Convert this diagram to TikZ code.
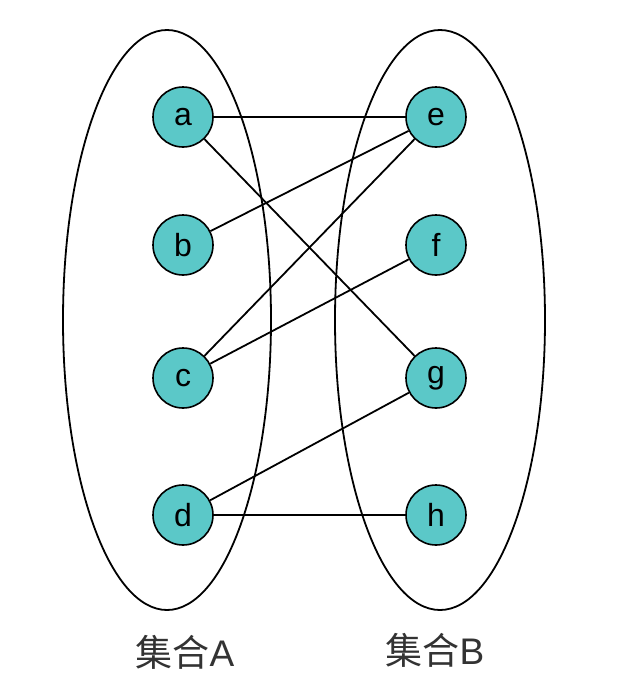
\documentclass[tikz,border=0pt]{standalone}
\usepackage{fontspec}
\setmainfont{Liberation Sans}
\newfontfamily\cjk{Noto Sans CJK SC}
\begin{document}
\begin{tikzpicture}[x=1pt,y=-1pt,
  elem/.style={circle,draw,line width=1.6pt,fill={rgb,255:red,91;green,200;blue,200},minimum size=60pt,inner sep=0pt,font=\fontsize{32}{34}\selectfont},
  link/.style={line width=1.8pt}]
\useasboundingbox[fill=white] (0,0) rectangle (622,696);
\draw[line width=1.8pt] (167,320) ellipse [x radius=104, y radius=290];
\draw[line width=1.8pt] (440,320) ellipse [x radius=105, y radius=290];
\node[elem] (a) at (183,117) {a};
\node[elem] (b) at (183,245) {b};
\node[elem] (c) at (183,378) {c};
\node[elem] (d) at (183,515) {d};
\node[elem] (e) at (436,117) {e};
\node[elem] (f) at (436,245) {f};
\node[elem] (g) at (436,378) {g};
\node[elem] (h) at (436,515) {h};
\draw[link] (a) -- (e);
\draw[link] (a) -- (g);
\draw[link] (b) -- (e);
\draw[link] (c) -- (e);
\draw[link] (c) -- (f);
\draw[link] (d) -- (g);
\draw[link] (d) -- (h);
\node[font=\fontsize{37}{40}\selectfont,text=black!80] (la) at (185,652) {{\cjk 集合}A};
\node[font=\fontsize{37}{40}\selectfont,text=black!80] (lb) at (435,650) {{\cjk 集合}B};
\end{tikzpicture}
\end{document}
